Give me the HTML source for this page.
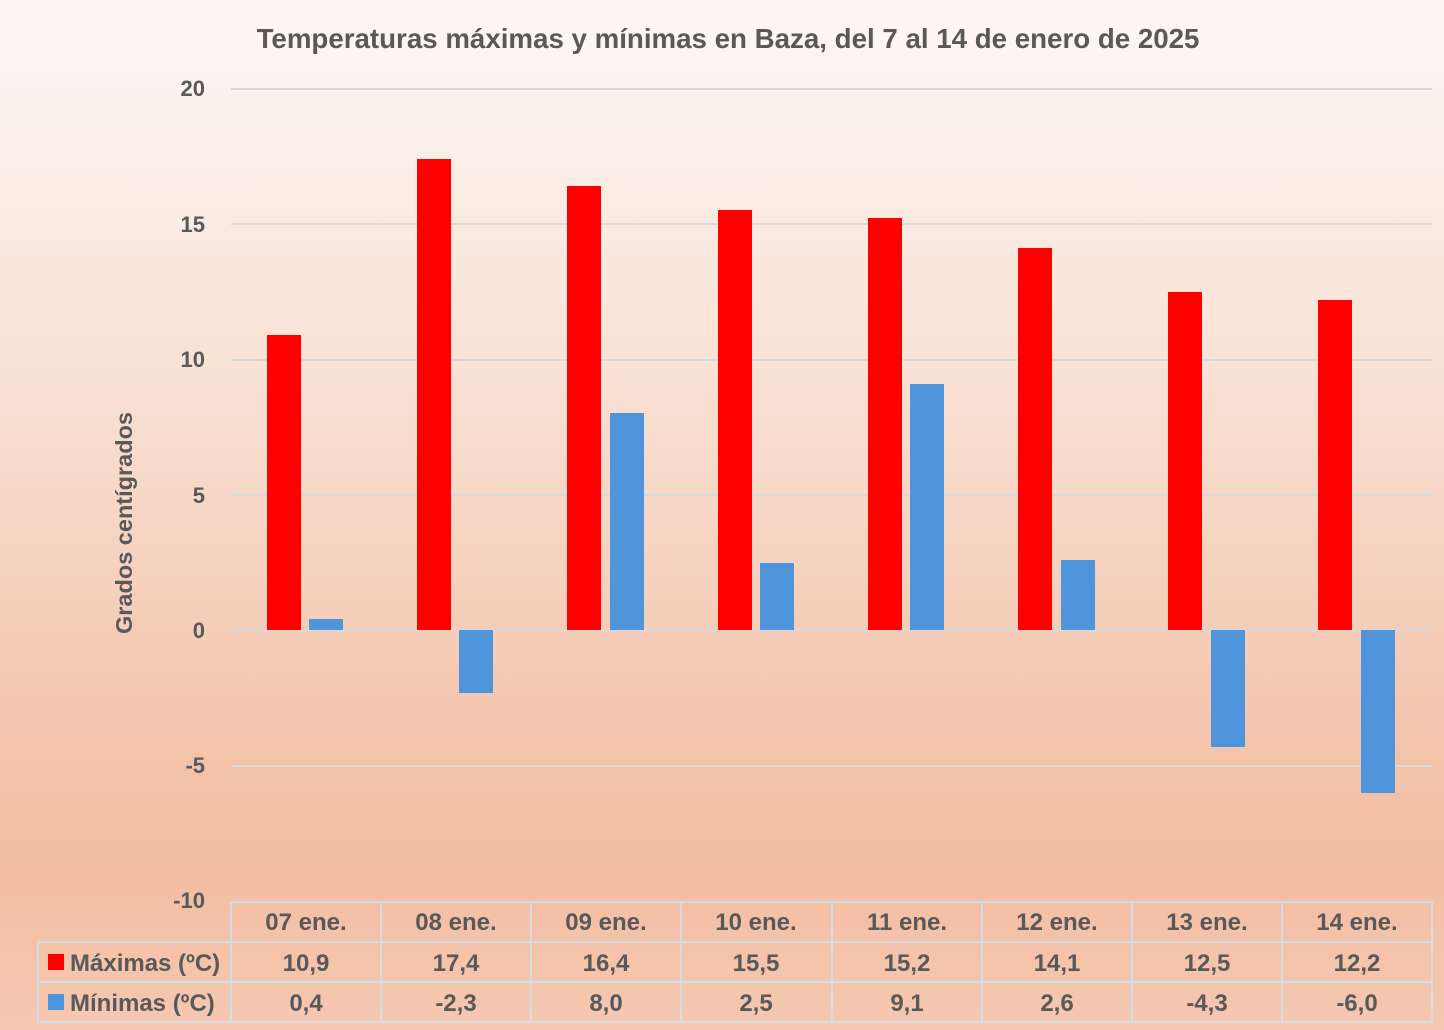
<!DOCTYPE html>
<html><head><meta charset="utf-8"><style>
html,body{margin:0;padding:0}
body{width:1444px;height:1030px;overflow:hidden;background:linear-gradient(180deg,#fdf8f5 0%,#f9e2d6 35%,#f3c2a8 75%,#f3bea3 85%,#f5c8b1 100%)}
svg{display:block;font-family:"Liberation Sans",sans-serif;font-weight:bold;fill:#595959}
</style></head><body>
<svg width="1444" height="1030" viewBox="0 0 1444 1030">
<text x="728" y="48" font-size="27.7" text-anchor="middle" fill="#595959">Temperaturas máximas y mínimas en Baza, del 7 al 14 de enero de 2025</text>
<g stroke="#d9d9d9" stroke-width="2">
<line x1="231" x2="1432" y1="89" y2="89"/><line x1="231" x2="1432" y1="224" y2="224"/>
<line x1="231" x2="1432" y1="360" y2="360"/><line x1="231" x2="1432" y1="495" y2="495"/>
<line x1="231" x2="1432" y1="630" y2="630"/><line x1="231" x2="1432" y1="766" y2="766"/>
</g>
<g font-size="22" text-anchor="end">
<text x="205" y="96">20</text><text x="205" y="232">15</text><text x="205" y="367">10</text>
<text x="205" y="503">5</text><text x="205" y="638">0</text><text x="205" y="773">-5</text><text x="205" y="908">-10</text>
</g>
<text transform="translate(132,523) rotate(-90)" font-size="23.5" text-anchor="middle">Grados centígrados</text>
<g fill="#ff0000">
<rect x="267" y="335" width="34" height="295"/>
<rect x="417" y="159" width="34" height="471"/>
<rect x="567" y="186" width="34" height="444"/>
<rect x="718" y="210" width="34" height="420"/>
<rect x="868" y="218" width="34" height="412"/>
<rect x="1018" y="248" width="34" height="382"/>
<rect x="1168" y="292" width="34" height="338"/>
<rect x="1318" y="300" width="34" height="330"/>
</g>
<g fill="#4f95db">
<rect x="309" y="619" width="34" height="11"/>
<rect x="459" y="630" width="34" height="63"/>
<rect x="610" y="413" width="34" height="217"/>
<rect x="760" y="563" width="34" height="67"/>
<rect x="910" y="384" width="34" height="246"/>
<rect x="1061" y="560" width="34" height="70"/>
<rect x="1211" y="630" width="34" height="117"/>
<rect x="1361" y="630" width="34" height="163"/>
</g>
<g stroke="#d4dde6" stroke-width="2" fill="none">
<path d="M231 902H1432V1022H38V942H1432M38 982H1432"/>
<path d="M231 902V1022M381 902V1022M531 902V1022M681 902V1022M832 902V1022M982 902V1022M1132 902V1022M1282 902V1022M1432 902V1022M38 942V1022"/>
</g>
<rect x="48" y="954" width="16" height="16" fill="#ff0000"/>
<rect x="48" y="994" width="16" height="16" fill="#4f95db"/>
<g font-size="24">
<text x="70" y="971">Máximas (ºC)</text>
<text x="70" y="1011">Mínimas (ºC)</text>
</g>
<g font-size="24" text-anchor="middle">
<text x="306" y="930">07 ene.</text><text x="456" y="930">08 ene.</text><text x="606" y="930">09 ene.</text><text x="756" y="930">10 ene.</text>
<text x="907" y="930">11 ene.</text><text x="1057" y="930">12 ene.</text><text x="1207" y="930">13 ene.</text><text x="1357" y="930">14 ene.</text>
<text x="306" y="971">10,9</text><text x="456" y="971">17,4</text><text x="606" y="971">16,4</text><text x="756" y="971">15,5</text>
<text x="907" y="971">15,2</text><text x="1057" y="971">14,1</text><text x="1207" y="971">12,5</text><text x="1357" y="971">12,2</text>
<text x="306" y="1011">0,4</text><text x="456" y="1011">-2,3</text><text x="606" y="1011">8,0</text><text x="756" y="1011">2,5</text>
<text x="907" y="1011">9,1</text><text x="1057" y="1011">2,6</text><text x="1207" y="1011">-4,3</text><text x="1357" y="1011">-6,0</text>
</g>
</svg>
</body></html>
